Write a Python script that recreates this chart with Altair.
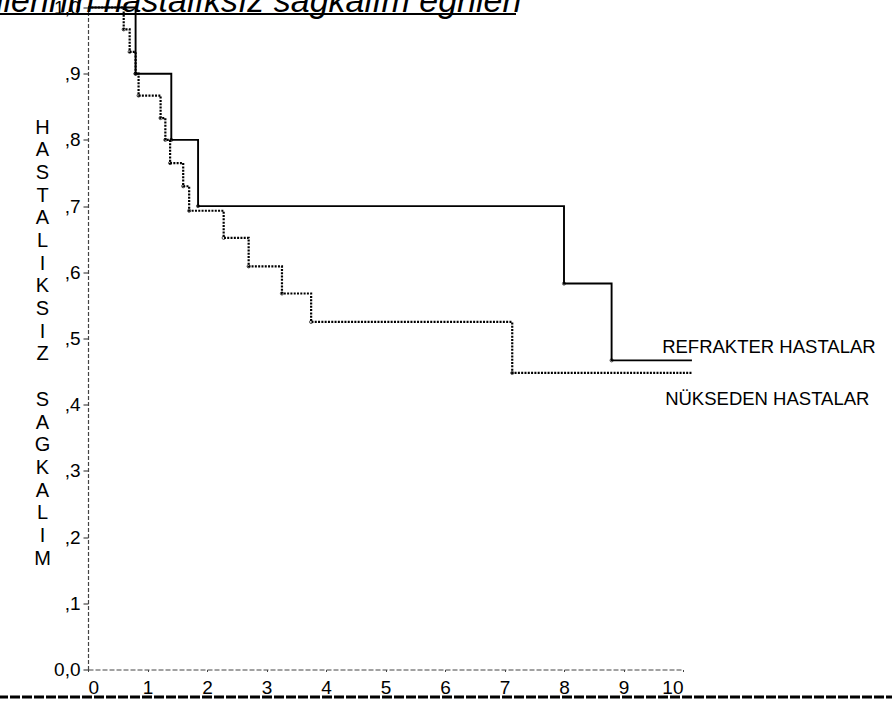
import altair as alt
import pandas as pd

FONT = "Liberation Sans"

# Kaplan-Meier steps: time (years) and disease-free survival after each step
ref_time = [0, 0.8, 1.4, 1.85, 8.0, 8.8, 10.15]
ref_surv = [1.0, 0.9, 0.8, 0.7, 0.583, 0.467, 0.467]

nuk_time = [0, 0.6, 0.7, 0.8, 0.85, 1.22, 1.3, 1.38, 1.6, 1.7, 2.28, 2.7, 3.26, 3.75, 7.13, 10.15]
nuk_surv = [1.0, 0.967, 0.933, 0.9, 0.867, 0.833, 0.8, 0.765, 0.73, 0.693,
            0.652, 0.609, 0.568, 0.525, 0.448, 0.448]

# Group names and where their labels sit (data units)
group_names = ["REFRAKTER HASTALAR", "NÜKSEDEN HASTALAR"]
label_time = [9.65, 9.7]
label_surv = [0.487, 0.408]

y_ticks = [0.0, 0.1, 0.2, 0.3, 0.4, 0.5, 0.6, 0.7, 0.8, 0.9, 1.0]
x_ticks = list(range(0, 11))
# one letter per line, with an empty line between the two words
y_title = list("HASTALIKSIZ") + ["\u200b"] + list("SAGKALIM")
title_text = "ilerinin hastalıksız sağkalım eğrileri"

ref = pd.DataFrame({"t": ref_time, "s": ref_surv})
nuk = pd.DataFrame({"t": nuk_time, "s": nuk_surv})
ref_marks = ref.iloc[1:-1]
nuk_marks = nuk.iloc[1:-1]
labels = pd.DataFrame({"name": group_names, "t": label_time, "s": label_surv})

x_enc = alt.X(
    "t:Q",
    scale=alt.Scale(domain=[0, 10], nice=False, zero=False),
    axis=alt.Axis(
        values=x_ticks, format="d", title=None, grid=False,
        labelFont=FONT, labelFontSize=19, labelColor="black",
        tickSize=2, tickColor="#444", labelPadding=7,
        domainColor="#444", domainDash=[5, 2], domainWidth=1,
    ),
)
y_enc = alt.Y(
    "s:Q",
    scale=alt.Scale(domain=[0, 1], nice=False),
    axis=alt.Axis(
        values=y_ticks, grid=False,
        labelExpr="datum.value == 0 ? '0,0' : (datum.value == 1 ? '1,0' : ',' + format(datum.value * 10, '.0f'))",
        labelFont=FONT, labelFontSize=19, labelColor="black", labelPadding=3,
        tickSize=5, tickColor="#222",
        domainColor="#444", domainDash=[4, 2], domainWidth=1.2,
        title=y_title, titleAngle=0, titleAlign="center", titleBaseline="middle",
        titleX=-46, titleY=119.5, titleFont=FONT, titleFontSize=20,
        titleFontWeight="normal", titleLineHeight=22.7, titleColor="black",
    ),
)

ref_line = alt.Chart(ref).mark_line(
    interpolate="step-after", color="black", strokeWidth=1.9, clip=False
).encode(x=x_enc, y=y_enc)

nuk_line = alt.Chart(nuk).mark_line(
    interpolate="step-after", color="black", strokeWidth=2.2, strokeDash=[2, 1.3], clip=False
).encode(x="t:Q", y="s:Q")

ref_pts = alt.Chart(ref_marks).mark_point(
    shape="circle", size=10, color="black", strokeWidth=1, filled=False
).encode(x="t:Q", y="s:Q")

nuk_pts = alt.Chart(nuk_marks).mark_point(
    shape="circle", size=10, color="black", strokeWidth=1, filled=False
).encode(x="t:Q", y="s:Q")

group_text = alt.Chart(labels).mark_text(
    align="left", baseline="middle", font=FONT, fontSize=18.5, color="black"
).encode(x="t:Q", y="s:Q", text="name:N")

title = alt.Chart(pd.DataFrame({"txt": [title_text]})).mark_text(
    align="left", baseline="alphabetic", font=FONT, fontSize=34,
    fontStyle="italic", color="black"
).encode(x=alt.value(-92), y=alt.value(4.5), text="txt:N")

underline = alt.Chart(pd.DataFrame({"k": [0]})).mark_rule(
    color="black", strokeWidth=2
).encode(x=alt.value(-88), x2=alt.value(428), y=alt.value(6.5))

page_rule = alt.Chart(pd.DataFrame({"k": [0]})).mark_rule(
    color="black", strokeWidth=3, strokeDash=[10, 2]
).encode(x=alt.value(-90), x2=alt.value(806), y=alt.value(689.5))

chart = alt.layer(
    ref_line, nuk_line, ref_pts, nuk_pts, group_text, title, underline, page_rule
).properties(
    width=595, height=662,
    autosize=alt.AutoSizeParams(type="none"),
    padding={"left": 88, "top": 7.5, "right": 209, "bottom": 33.5},
    background="white",
).configure_view(stroke=None)

chart.save("out.html", embed_options={"renderer": "svg", "actions": False})
